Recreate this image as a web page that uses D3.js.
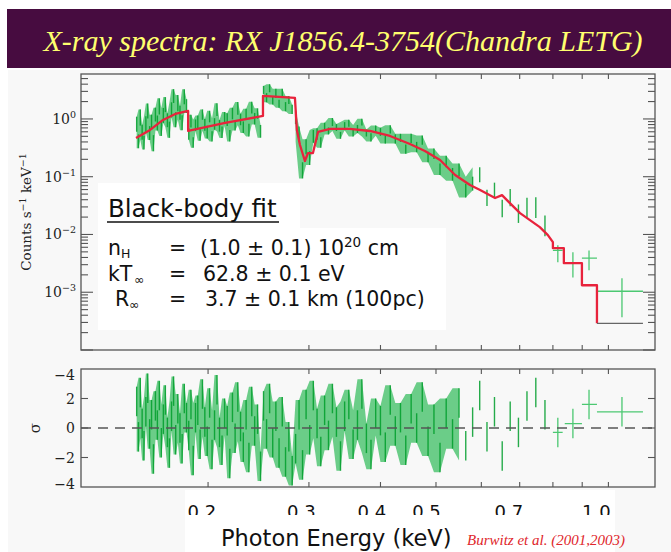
<!DOCTYPE html>
<html>
<head>
<meta charset="utf-8">
<script src="https://cdn.jsdelivr.net/npm/d3@7"></script>
<style>
body { margin: 0; background: #fff; }
svg { display: block; }
</style>
</head>
<body>
<svg></svg>
<script>
const width = 671;
const height = 552;

const titleText = 'X-ray spectra: RX J1856.4-3754(Chandra LETG)';

// LETG channels, regular in wavelength (Angstrom); energy = 12.398 / lambda
const binLambda = d3.range(82.6, 15.9, -0.6);
// count rate per channel (counts s^-1 keV^-1)
const binRate = [
	0.81,0.41,1.06,0.59,0.39,0.81,1.37,0.57,0.88,0.38,1.19,0.85,1.65,0.67,1.15,1.77,0.95,0.65,1.44,2.49,0.97,1.88,1.28,0.86,2.42,1.67,
	0.55,0.92,0.39,0.78,0.89,0.53,1.19,0.79,0.59,1.10,0.50,0.82,1.45,0.76,0.59,1.07,0.97,0.51,1.24,0.78,1.52,0.98,0.72,1.22,0.64,1.57,1.01,1.24,0.61,
	3.18,2.33,3.40,2.08,2.76,1.83,2.85,1.63,2.13,1.46,
	1.07,0.55,0.129,0.33,0.21,0.50,0.55,0.39,
	0.75,0.62,0.885,0.71,0.52,0.75,0.84,0.57,0.67,0.88,0.57,0.48,0.67,0.60,0.44,0.66,0.45,0.47,
	0.30,0.46,0.326,0.43,0.22,0.25,0.135,0.183,0.110,0.131,
	0.0575,0.076,0.108,0.0429,0.0585,0.0282,0.0433,0.0229,0.0292,0.0292,0.0141
];
// 1-sigma error of each channel, in dex
const binRateErr = [
	0.13,0.12,0.14,0.13,0.12,0.14,0.13,0.12,0.13,0.14,0.12,0.13,0.14,0.12,0.13,0.13,0.12,0.14,0.13,0.12,0.13,0.14,0.12,0.13,0.13,0.12,
	0.10,0.11,0.09,0.10,0.11,0.10,0.09,0.10,0.11,0.10,0.09,0.10,0.11,0.10,0.10,0.09,0.11,0.10,0.10,0.09,0.11,0.10,0.10,0.09,0.11,0.10,0.10,0.09,0.11,
	0.07,0.08,0.07,0.07,0.08,0.07,0.07,0.08,0.07,0.08,
	0.12,0.13,0.14,0.13,0.12,0.11,0.10,0.09,
	0.06,0.06,0.07,0.06,0.06,0.07,0.06,0.06,0.07,0.06,0.06,0.07,0.06,0.07,0.07,0.07,0.08,0.07,
	0.08,0.08,0.09,0.08,0.09,0.09,0.10,0.10,0.11,0.11,
	0.12,0.12,0.13,0.14,0.13,0.15,0.15,0.16,0.17,0.18,0.18
];
// residuals (sigma)
const binSigma = [
	1.8,-0.6,2.4,0.3,-1.2,1.1,2.7,-0.4,0.9,-2.1,1.5,0.2,2.2,-1.0,0.6,1.9,-0.3,-1.7,0.8,2.5,-0.8,1.3,0.0,-1.4,2.0,0.7,
	-0.5,1.6,-2.2,0.7,1.2,-1.1,2.3,0.4,-0.9,1.7,-1.8,0.2,2.6,-0.3,-1.5,1.0,0.5,-2.4,1.4,-0.7,2.1,0.1,-1.3,0.9,-2.0,1.8,-0.2,0.6,-2.6,
	1.5,-0.4,2.0,-1.0,0.8,-1.7,1.1,-2.3,-0.6,-2.9,
	-1.4,0.9,-2.5,1.6,-0.8,2.2,0.3,-1.6,
	1.2,-0.5,2.0,0.4,-1.9,0.8,1.6,-1.1,0.2,2.3,-0.7,-1.8,1.0,0.5,-1.3,1.9,-0.2,0.7,
	-1.5,1.3,0.0,2.1,-0.9,0.6,-2.0,1.0,-0.4,1.7,
	-1.2,0.4,2.2,-0.6,1.1,-1.9,0.8,-0.3,1.5,2.4,0.9
];

// wide bins at the high energy end
const wideE = [0.816, 0.867, 0.925, 1.056];
const wideElo = [0.800, 0.839, 0.899, 0.955];
const wideEhi = [0.832, 0.899, 0.955, 1.149];
const wideRate = [0.0053, 0.0032, 0.0039, 0.00104];
const wideRateLo = [0.0033, 0.0018, 0.0024, 0.00037];
const wideRateHi = [0.0065, 0.0049, 0.0053, 0.00175];
const wideSigma = [-0.3, 0.3, 1.6, 1.1];

// black-body fit (corners of the model histogram)
const modelE = [0.1497,0.1584,0.1669,0.1753,0.1846,0.1846,0.2142,0.2494,0.2494,0.2836,0.2858,0.2894,0.2952,0.2989,0.3049,0.3112,0.3266,0.3537,0.3834,0.4155,0.4503,0.4782,0.5083,0.540,0.5733,0.597,0.634,0.652,0.673,0.701,0.759,0.784,0.800,0.800,0.836,0.836,0.899,0.899,0.955,0.955];
const modelRate = [0.468,0.645,0.961,1.221,1.376,0.619,0.852,1.127,2.506,2.313,0.645,0.354,0.187,0.257,0.257,0.595,0.671,0.671,0.619,0.507,0.368,0.279,0.195,0.107,0.0717,0.0587,0.0427,0.0481,0.0349,0.0234,0.0134,0.00975,0.00736,0.0058,0.0058,0.00318,0.00318,0.00132,0.00132,0.00029];
const modelTailE = [0.955, 1.149];
const modelTailRate = [0.00029, 0.00029];
// instrumental edges where the spectrum jumps
const edgeE = [0.1846, 0.2494, 0.2836];

const xTicks = [0.2, 0.3, 0.4, 0.5, 0.6, 0.7, 0.8, 0.9, 1.0];
const xTickLabels = ['0.2', '0.3', '0.4', '0.5', '0.7', '1.0'];
const yDecades = [1, 0.1, 0.01, 0.001];
const yDecadeLabels = ['0', '\u22121', '\u22122', '\u22123'];
const sigmaTicks = [4, 2, 0, -2, -4];
const sigmaTickLabels = ['\u22124', '2', '0', '\u22122', '\u22124'];

const green = '#009e2b';
const greenBand = '#1fb64c';
const greenLight = '#4cc872';
const red = '#e8233c';
const frame = '#555';

const svg = d3.select('svg')
	.attr('width', width)
	.attr('height', height);

svg.append('rect').attr('width', width).attr('height', height).attr('fill', '#fff');
svg.append('rect').attr('x', 8).attr('y', 70).attr('width', width - 8).attr('height', height - 70).attr('fill', '#f8f8f8');

// title bar
svg.append('rect').attr('x', 7).attr('y', 9).attr('width', width - 7).attr('height', 59).attr('fill', '#470c40');
svg.append('text')
	.attr('x', 343).attr('y', 51)
	.attr('text-anchor', 'middle')
	.attr('font-family', '"Liberation Serif", "Times New Roman", serif')
	.attr('font-style', 'italic')
	.attr('font-size', 30)
	.attr('fill', '#ffff6e')
	.text(titleText);

const x = d3.scaleLog().domain([0.12, 1.206]).range([81, 655]);
const yTop = d3.scaleLog().domain([1e-4, 6]).range([350, 74]);
const ySig = d3.scaleLinear().domain([-4, 4]).range([487, 369]);

const defs = svg.append('defs');
defs.append('clipPath').attr('id', 'clipTop').append('rect')
	.attr('x', x.range()[0]).attr('y', yTop.range()[1])
	.attr('width', x.range()[1] - x.range()[0]).attr('height', yTop.range()[0] - yTop.range()[1]);
defs.append('clipPath').attr('id', 'clipSig').append('rect')
	.attr('x', x.range()[0]).attr('y', ySig.range()[1])
	.attr('width', x.range()[1] - x.range()[0]).attr('height', ySig.range()[0] - ySig.range()[1]);

const bins = binLambda.map((l, i) => {
	const e = 12.398 / l;
	return {
		e: e,
		seg: d3.bisectRight(edgeE, e),
		lo: binRate[i] / Math.pow(10, binRateErr[i]),
		hi: binRate[i] * Math.pow(10, binRateErr[i]),
		sig: binSigma[i]
	};
});
const wide = wideE.map((e, i) => ({
	e: e, lo: wideElo[i], hi: wideEhi[i],
	rate: wideRate[i], rateLo: wideRateLo[i], rateHi: wideRateHi[i],
	sig: wideSigma[i]
}));

// spread of each channel and the next one (inside the same edge segment)
const spread = bins.map((d, i) => {
	const near = bins.slice(i, i + 2).filter(b => b.seg === d.seg);
	return {
		e: d.e, seg: d.seg,
		lo: d3.min(near, b => b.lo), hi: d3.max(near, b => b.hi),
		sLo: d3.min(near, b => b.sig - 1), sHi: d3.max(near, b => b.sig + 1)
	};
});

// ---------- spectrum panel ----------
// text box backgrounds
svg.append('rect').attr('x', 98).attr('y', 183).attr('width', 202).attr('height', 46).attr('fill', '#fff');
svg.append('rect').attr('x', 98).attr('y', 228).attr('width', 348).attr('height', 102).attr('fill', '#fff');

const specG = svg.append('g').attr('clip-path', 'url(#clipTop)');

const spreadArea = d3.area()
	.x(d => x(d.e))
	.y0(d => yTop(d.lo))
	.y1(d => yTop(d.hi));

specG.selectAll('path.band')
	.data(d3.groups(spread.filter(d => d.e < 0.58), d => d.seg))
	.join('path')
	.attr('class', 'band')
	.attr('d', g => spreadArea(g[1]))
	.attr('fill', greenBand)
	.attr('fill-opacity', 0.65);

specG.selectAll('line.bin')
	.data(bins)
	.join('line')
	.attr('class', 'bin')
	.attr('x1', d => x(d.e))
	.attr('x2', d => x(d.e))
	.attr('y1', d => yTop(d.hi))
	.attr('y2', d => yTop(d.lo))
	.attr('stroke', green)
	.attr('stroke-opacity', 0.85)
	.attr('stroke-width', 1.4);

specG.selectAll('path.wideV')
	.data(wide)
	.join('path')
	.attr('class', 'wideV')
	.attr('d', d => `M${x(d.e)},${yTop(d.rateHi)}V${yTop(d.rateLo)}M${x(d.lo)},${yTop(d.rate)}H${x(d.hi)}`)
	.attr('fill', 'none')
	.attr('stroke', greenLight)
	.attr('stroke-width', 1.3);

const modelLine = d3.line()
	.x(d => x(d[0]))
	.y(d => yTop(d[1]));

specG.append('path')
	.attr('d', modelLine(d3.zip(modelE, modelRate)))
	.attr('fill', 'none')
	.attr('stroke', red)
	.attr('stroke-width', 2.3)
	.attr('stroke-linejoin', 'round');

specG.append('path')
	.attr('d', modelLine(d3.zip(modelTailE, modelTailRate)))
	.attr('fill', 'none')
	.attr('stroke', '#666')
	.attr('stroke-width', 1.3);

// frame and ticks
svg.append('rect')
	.attr('x', 81).attr('y', 74).attr('width', 574).attr('height', 276)
	.attr('fill', 'none').attr('stroke', frame).attr('stroke-width', 1.3);

const yTickVals = yTop.ticks(10).filter(v => v < 6);
const isDecade = v => Math.abs(Math.log10(v) - Math.round(Math.log10(v))) < 1e-6;
svg.selectAll('line.ytick')
	.data(yTickVals.flatMap(v => [{v: v, side: 0}, {v: v, side: 1}]))
	.join('line')
	.attr('class', 'ytick')
	.attr('x1', d => d.side ? 655 : 81)
	.attr('x2', d => (d.side ? 655 : 81) + (d.side ? -1 : 1) * (isDecade(d.v) ? 12 : 7))
	.attr('y1', d => yTop(d.v))
	.attr('y2', d => yTop(d.v))
	.attr('stroke', frame).attr('stroke-width', 1.1);

const xTickRows = [[74, 1], [350, -1], [369, 1], [487, -1]];
svg.selectAll('line.xtick')
	.data(xTicks.flatMap(v => xTickRows.map(r => ({v: v, y: r[0], dir: r[1]}))))
	.join('line')
	.attr('class', 'xtick')
	.attr('x1', d => x(d.v)).attr('x2', d => x(d.v))
	.attr('y1', d => d.y).attr('y2', d => d.y + d.dir * 5)
	.attr('stroke', frame).attr('stroke-width', 1.1);

const decadeLabel = svg.selectAll('text.ydec')
	.data(yDecades)
	.join('text')
	.attr('class', 'ydec')
	.attr('x', 76)
	.attr('y', d => yTop(d) + 5)
	.attr('text-anchor', 'end')
	.attr('font-family', '"DejaVu Serif", serif')
	.attr('font-size', 14)
	.attr('fill', '#222');
decadeLabel.append('tspan').text('10');
decadeLabel.append('tspan').attr('dy', -6).attr('font-size', 9.5).text((d, i) => yDecadeLabels[i]);

svg.append('text')
	.attr('transform', 'translate(31,212) rotate(-90)')
	.attr('text-anchor', 'middle')
	.attr('font-family', '"DejaVu Serif", serif')
	.attr('font-size', 13.5)
	.attr('fill', '#222')
	.call(t => {
		t.append('tspan').text('Counts s');
		t.append('tspan').attr('dy', -5).attr('font-size', 9.5).text('\u22121');
		t.append('tspan').attr('dy', 5).text(' keV');
		t.append('tspan').attr('dy', -5).attr('font-size', 9.5).text('\u22121');
	});

// fit results
const boxFont = '"DejaVu Sans", "Open Sans", sans-serif';
svg.append('text')
	.attr('x', 108).attr('y', 217)
	.attr('font-family', boxFont).attr('font-size', 24.5).attr('fill', '#111')
	.text('Black-body fit');
svg.append('line')
	.attr('x1', 107).attr('x2', 279).attr('y1', 222).attr('y2', 222)
	.attr('stroke', '#111').attr('stroke-width', 1.6);

const fitRows = [
	{y: 255, sym: 'n', sub: 'H', subX: 121, val: '(1.0 \u00b1 0.1) 10', sup: '20', rest: ' cm', symX: 108, valX: 200},
	{y: 281, sym: 'kT', sub: '\u221e', subX: 134, val: '62.8 \u00b1 0.1 eV', sup: '', rest: '', symX: 108, valX: 203},
	{y: 306, sym: 'R', sub: '\u221e', subX: 129, val: '3.7 \u00b1 0.1 km (100pc)', sup: '', rest: '', symX: 115, valX: 205}
];
fitRows.forEach(r => {
	const t = svg.append('text')
		.attr('y', r.y)
		.attr('font-family', boxFont).attr('font-size', 20.5).attr('fill', '#111');
	t.append('tspan').attr('x', r.symX).text(r.sym);
	t.append('tspan').attr('x', r.subX).attr('dy', 3).attr('font-size', 12.5).text(r.sub);
	t.append('tspan').attr('x', 169).attr('dy', -3).text('=');
	t.append('tspan').attr('x', r.valX).text(r.val);
	if (r.sup) {
		t.append('tspan').attr('dy', -8).attr('font-size', 13.5).text(r.sup);
		t.append('tspan').attr('dy', 8).text(r.rest);
	}
});

// ---------- residual panel ----------
const resG = svg.append('g').attr('clip-path', 'url(#clipSig)');

resG.append('path')
	.attr('d', d3.area().x(d => x(d.e)).y0(d => ySig(d.sLo)).y1(d => ySig(d.sHi))(spread.filter(d => d.e < 0.56)))
	.attr('fill', greenBand)
	.attr('fill-opacity', 0.65);

resG.selectAll('line.res')
	.data(bins)
	.join('line')
	.attr('class', 'res')
	.attr('x1', d => x(d.e)).attr('x2', d => x(d.e))
	.attr('y1', d => ySig(d.sig + 1))
	.attr('y2', d => ySig(d.sig - 1))
	.attr('stroke', green)
	.attr('stroke-opacity', 0.85)
	.attr('stroke-width', 1.4);

resG.selectAll('path.wideR')
	.data(wide)
	.join('path')
	.attr('class', 'wideR')
	.attr('d', d => `M${x(d.e)},${ySig(d.sig + 1)}V${ySig(d.sig - 1)}M${x(d.lo)},${ySig(d.sig)}H${x(d.hi)}`)
	.attr('fill', 'none')
	.attr('stroke', greenLight)
	.attr('stroke-width', 1.3);

svg.append('line')
	.attr('x1', 81).attr('x2', 655)
	.attr('y1', ySig(0)).attr('y2', ySig(0))
	.attr('stroke', '#555').attr('stroke-width', 1.3)
	.attr('stroke-dasharray', '10,7');

svg.append('rect')
	.attr('x', 81).attr('y', 369).attr('width', 574).attr('height', 118)
	.attr('fill', 'none').attr('stroke', frame).attr('stroke-width', 1.3);

svg.selectAll('line.stick')
	.data([-2, 0, 2].flatMap(v => [{v: v, side: 0}, {v: v, side: 1}]))
	.join('line')
	.attr('class', 'stick')
	.attr('x1', d => d.side ? 655 : 81)
	.attr('x2', d => d.side ? 648 : 88)
	.attr('y1', d => ySig(d.v)).attr('y2', d => ySig(d.v))
	.attr('stroke', frame).attr('stroke-width', 1.1);

svg.selectAll('text.slab')
	.data(sigmaTicks)
	.join('text')
	.attr('class', 'slab')
	.attr('x', 75)
	.attr('y', d => Math.max(375, Math.min(484, ySig(d))) + 5)
	.attr('text-anchor', 'end')
	.attr('font-family', '"DejaVu Serif", serif')
	.attr('font-size', 14)
	.attr('fill', '#222')
	.text((d, i) => sigmaTickLabels[i]);

svg.append('text')
	.attr('transform', `translate(40,${ySig(0)}) rotate(-90)`)
	.attr('text-anchor', 'middle')
	.attr('font-family', '"DejaVu Serif", serif')
	.attr('font-size', 15)
	.attr('fill', '#222')
	.text('\u03c3');

// ---------- energy axis labels ----------
svg.append('rect').attr('x', 185).attr('y', 490).attr('width', 430).attr('height', 62).attr('fill', '#fff');
svg.selectAll('text.xlab')
	.data(xTickLabels)
	.join('text')
	.attr('class', 'xlab')
	.attr('x', d => x(+d) * 0.985 - 3)
	.attr('y', 518)
	.attr('text-anchor', 'middle')
	.attr('font-family', boxFont)
	.attr('font-size', 18)
	.attr('fill', '#111')
	.text(d => d);
svg.append('rect').attr('x', 185).attr('y', 515).attr('width', 430).attr('height', 37).attr('fill', '#fff');

svg.append('text')
	.attr('x', 221).attr('y', 546)
	.attr('font-family', boxFont)
	.attr('font-size', 22.5)
	.attr('fill', '#111')
	.text('Photon Energy (keV)');

svg.append('text')
	.attr('x', 467).attr('y', 545)
	.attr('font-family', '"Liberation Serif", "Times New Roman", serif')
	.attr('font-style', 'italic')
	.attr('font-size', 15)
	.attr('fill', '#e0262b')
	.text('Burwitz et al. (2001,2003)');
</script>
</body>
</html>
